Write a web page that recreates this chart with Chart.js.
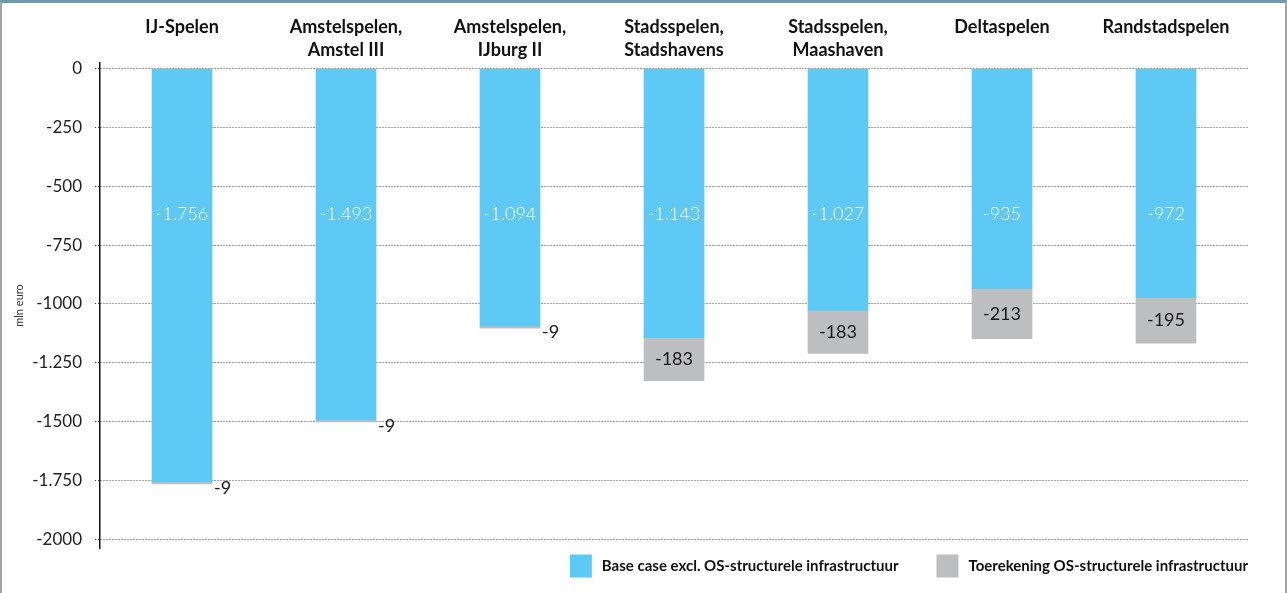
<!DOCTYPE html>
<html>
<head>
<meta charset="utf-8">
<script src="https://cdn.jsdelivr.net/npm/chart.js@4.4.1/dist/chart.umd.min.js"></script>
<style>
  html, body { margin: 0; padding: 0; background: #fff; }
  #wrap {
    position: absolute; left: 0; top: 0; width: 1287px; height: 593px; box-sizing: border-box;
    border-top: 3px solid #6e98ae; border-left: 2px solid #a3a3a3; border-right: 2px solid #a3a3a3;
  }
  canvas { display: block; }
</style>
</head>
<body>
<div id="wrap"><canvas id="chart" width="1283" height="590"></canvas></div>
<script>
// Data
const categories = ['IJ-Spelen', ['Amstelspelen,', 'Amstel III'], ['Amstelspelen,', 'IJburg II'],
  ['Stadsspelen,', 'Stadshavens'], ['Stadsspelen,', 'Maashaven'], 'Deltaspelen', 'Randstadspelen'];
const seriesNames = ['Base case excl. OS-structurele infrastructuur', 'Toerekening OS-structurele infrastructuur'];
const baseCase = [-1756, -1493, -1094, -1143, -1027, -935, -972];
const toerekening = [-9, -9, -9, -183, -183, -213, -195];
const yTicks = [0, -250, -500, -750, -1000, -1250, -1500, -1750, -2000];
const yTickLabels = ['0', '-250', '-500', '-750', '-1000', '-1.250', '-1500', '-1.750', '-2000'];

const blue = '#5ec9f5';
const grey = '#bdbec0';
const baseLabelLevel = -620; // where the white labels sit

// dutch thousands separator
const fmt = v => (v < 0 ? '-' : '') + String(Math.abs(v)).replace(/\B(?=(\d{3})+(?!\d))/g, '.');

const valueLabels = {
  id: 'valueLabels',
  afterDatasetsDraw(chart) {
    const { ctx, scales: { y } } = chart;
    ctx.save();
    ctx.textBaseline = 'middle';
    chart.getDatasetMeta(0).data.forEach((bar, i) => {
      ctx.font = '300 18px Lato';
      ctx.fillStyle = '#ffffff';
      ctx.textAlign = 'center';
      ctx.fillText(fmt(baseCase[i]), bar.x, y.getPixelForValue(baseLabelLevel));
    });
    chart.getDatasetMeta(1).data.forEach((bar, i) => {
      const v = toerekening[i];
      ctx.font = '18px Lato';
      ctx.fillStyle = '#1a1a1a';
      if (Math.abs(v) < 50) {
        ctx.textAlign = 'left';
        ctx.fillText(fmt(v), bar.x + bar.width / 2 + 2, bar.y + 4);
      } else {
        ctx.textAlign = 'center';
        ctx.fillText(fmt(v), bar.x, (bar.y + bar.base) / 2);
      }
    });
    ctx.restore();
  }
};

// legend, right aligned under the plot
const legendBox = {
  id: 'legendBox',
  afterDraw(chart) {
    const { ctx, chartArea } = chart;
    ctx.save();
    ctx.font = 'bold 15px Lato';
    ctx.textBaseline = 'middle';
    ctx.textAlign = 'left';
    const yMid = chartArea.bottom + 18;
    let x = chartArea.right;
    const sets = chart.data.datasets;
    for (let i = sets.length - 1; i >= 0; i--) {
      const w = ctx.measureText(sets[i].label).width;
      x -= w;
      ctx.fillStyle = '#111';
      ctx.fillText(sets[i].label, x, yMid);
      x -= 10 + 22;
      ctx.fillStyle = sets[i].backgroundColor;
      ctx.fillRect(x, yMid - 11.5, 22, 23);
      x -= 38;
    }
    ctx.restore();
  }
};

new Chart(document.getElementById('chart').getContext('2d'), {
  type: 'bar',
  data: {
    labels: categories,
    datasets: [
      { label: seriesNames[0], data: baseCase, backgroundColor: blue, barThickness: 60 },
      { label: seriesNames[1], data: toerekening, backgroundColor: grey, barThickness: 60 }
    ]
  },
  options: {
    responsive: false,
    animation: false,
    layout: { padding: { left: 0, right: 37, top: 0, bottom: 45 } },
    plugins: { legend: { display: false }, tooltip: { enabled: false } },
    scales: {
      x: {
        position: 'top',
        stacked: true,
        grid: { display: false },
        border: { display: false },
        ticks: {
          font: { family: 'Lato', size: 18, weight: 'bold', lineHeight: 1.28 },
          color: '#111', padding: -7, crossAlign: 'far', maxRotation: 0, autoSkip: false
        },
        afterFit(s) { s.height = 60; }
      },
      y: {
        stacked: true,
        min: -2038,
        max: 25,
        afterBuildTicks(s) { s.ticks = yTicks.map(v => ({ value: v })); },
        ticks: {
          callback: (v, i) => yTickLabels[i],
          font: { family: 'Lato', size: 17 },
          color: '#222',
          padding: 13
        },
        grid: {
          color: '#444', lineWidth: 1, tickLength: 5, tickColor: '#444', tickBorderDash: [1, 2]
        },
        border: { display: true, color: '#111', width: 1.5, dash: [1, 2] },
        title: {
          display: true, text: 'mln euro', color: '#333',
          font: { family: 'Lato', size: 11 }, padding: { top: 11, bottom: 0 }
        },
        afterFit(s) { s.width = 98; }
      }
    }
  },
  plugins: [valueLabels, legendBox]
});
</script>
</body>
</html>
